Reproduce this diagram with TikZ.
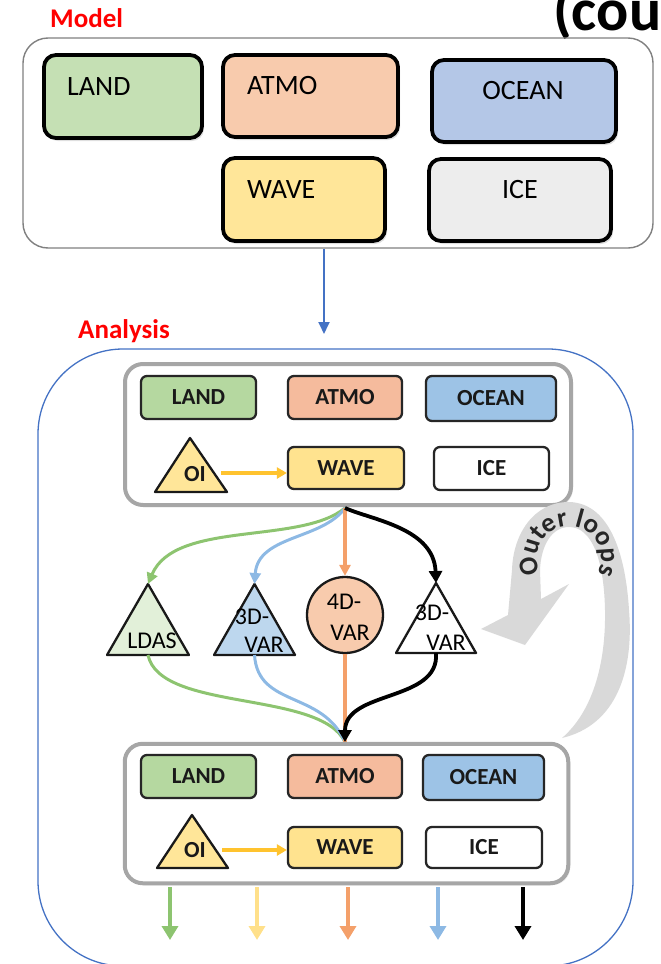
\documentclass[tikz,border=0pt]{standalone}
\usepackage{fontspec}
\setmainfont{Carlito}
\usetikzlibrary{arrows.meta,shadows,decorations.text}
\definecolor{mLandC}{HTML}{C5E0B4}
\definecolor{mAtmoC}{HTML}{F8CBAD}
\definecolor{mOceanC}{HTML}{B4C7E7}
\definecolor{mWaveC}{HTML}{FFE699}
\definecolor{mIceC}{HTML}{EDEDED}
\definecolor{aLandC}{HTML}{B5D8A0}
\definecolor{aAtmoC}{HTML}{F5BB9D}
\definecolor{aOceanC}{HTML}{9DC3E6}
\definecolor{aWaveC}{HTML}{FFE38F}
\definecolor{triGreen}{HTML}{E2F0D9}
\definecolor{triBlue}{HTML}{BDD7EE}
\definecolor{circOr}{HTML}{F8CBAD}
\definecolor{arGreen}{HTML}{8DC470}
\definecolor{arBlue}{HTML}{8DB9E4}
\definecolor{arOrange}{HTML}{F4A06A}
\definecolor{arYellow}{HTML}{FFC32E}
\definecolor{arPale}{HTML}{FFE08A}
\definecolor{linkBlue}{HTML}{4472C4}
\definecolor{boxGray}{HTML}{A6A6A6}
\definecolor{loopGray}{HTML}{D9D9D9}
\definecolor{titleRed}{HTML}{FF0000}
\begin{document}
\begin{tikzpicture}[x=1pt,y=-1pt,
  mbox/.style={draw=black, line width=3.8pt, rounded corners=12pt, inner sep=0pt,
    drop shadow={opacity=0.25,shadow xshift=2pt,shadow yshift=-3pt}},
  mtext/.style={font=\fontsize{28}{28}\selectfont, inner sep=0pt},
  abox/.style={draw=black!85, line width=2.3pt, rounded corners=6pt, inner sep=0pt,
    font=\bfseries\fontsize{23}{23}\selectfont, text=black!90},
  agroup/.style={draw=boxGray, line width=4pt, rounded corners=18pt, fill=white, inner sep=0pt,
    drop shadow={opacity=0.15,shadow xshift=2pt,shadow yshift=-2pt}},
  tri/.style={draw=black!90, line width=2.3pt, line join=round},
  ttext/.style={font=\fontsize{24}{24}\selectfont, inner sep=0pt, text=black},
  oitext/.style={font=\bfseries\fontsize{23}{23}\selectfont, inner sep=0pt, text=black!90},
  flowline/.style={line width=3pt},
  arrowtip/.style={-{Triangle[length=11pt,width=11pt]}},
  outarrow/.style={line width=3.6pt, shorten <=2pt, -{Triangle[length=14pt,width=16pt]}},
  redtitle/.style={font=\bfseries\fontsize{27}{27}\selectfont, text=titleRed, inner sep=0pt}]
\useasboundingbox (0,0) rectangle (661,964);
\clip (0,0) rectangle (661,964);

% ---------- Model ----------
\node[redtitle, anchor=base west] (modelT) at (50,27) {Model};
\node[font=\bfseries\fontsize{60}{60}\selectfont, anchor=base west, inner sep=0pt] (titleT) at (553,30) {(cou};
\node[draw=black!50, line width=1.4pt, rounded corners=25pt, minimum width=630pt, minimum height=210pt, inner sep=0pt] (model) at (338,143) {};
\node[mbox, fill=mLandC, minimum width=158pt, minimum height=83pt] (mLand) at (123,96.5) {};
\node[mbox, fill=mAtmoC, minimum width=175pt, minimum height=82pt] (mAtmo) at (310.5,96) {};
\node[mbox, fill=mOceanC, minimum width=184pt, minimum height=82pt] (mOcean) at (524,101) {};
\node[mbox, fill=mWaveC, minimum width=162pt, minimum height=83pt] (mWave) at (304,199.5) {};
\node[mbox, fill=mIceC, minimum width=182pt, minimum height=82pt] (mIce) at (520,200) {};
\node[mtext, anchor=base west] (mLandT) at (67,95) {LAND};
\node[mtext, anchor=base west] (mAtmoT) at (247,94) {ATMO};
\node[mtext, anchor=base] (mOceanT) at (523,99) {OCEAN};
\node[mtext, anchor=base west] (mWaveT) at (247,198) {WAVE};
\node[mtext, anchor=base] (mIceT) at (520,198) {ICE};

\coordinate (aIn) at (324,334);
\draw[linkBlue, line width=1.8pt, -{Triangle[length=12pt,width=11pt]}] (model.south -| aIn) -- (aIn);

% ---------- Analysis ----------
\node[redtitle, anchor=base west] (analysisT) at (78,338) {Analysis};
\node[draw=linkBlue, line width=1.3pt, rounded corners=85pt, minimum width=595pt, minimum height=617pt, inner sep=0pt] (analysis) at (335.5,657.5) {};

% top group
\node[agroup, minimum width=446pt, minimum height=141pt] (aTop) at (348,434.5) {};
\node[abox, fill=aLandC, minimum width=115pt, minimum height=43pt] (aLand) at (198.5,397.5) {LAND};
\node[abox, fill=aAtmoC, minimum width=114pt, minimum height=43pt] (aAtmo) at (345,397.5) {ATMO};
\node[abox, fill=aOceanC, minimum width=130pt, minimum height=45pt] (aOcean) at (491,398.5) {OCEAN};
\node[abox, fill=aWaveC, minimum width=116pt, minimum height=42pt] (aWave) at (346,468) {WAVE};
\node[abox, fill=white, minimum width=115pt, minimum height=43pt] (aIce) at (491.5,468.5) {ICE};
\filldraw[tri, fill=mWaveC] (190,438) -- (227,492) -- (155,492) -- cycle;
\node[oitext] (aOI) at (195,474) {OI};
\coordinate (aOIr) at (221,473);
\draw[arYellow, line width=3.2pt, -{Triangle[length=10pt,width=11pt]}] (aOIr) -- (aOIr -| aWave.west);

% middle
\coordinate (src) at (345,508);
\coordinate (dst) at (345,742);
\filldraw[tri, fill=triGreen] (148,584) -- (189,655) -- (107,655) -- cycle;
\coordinate (ldasTop) at (148,584);
\coordinate (ldasBot) at (148,655);
\filldraw[tri, fill=triBlue] (254.5,584) -- (295,655) -- (214,655) -- cycle;
\coordinate (v3Top) at (254.5,584);
\coordinate (v3Bot) at (254.5,655);
\filldraw[tri, fill=white] (436,583) -- (476,653) -- (396,653) -- cycle;
\coordinate (w3Top) at (436,583);
\coordinate (w3Bot) at (436,653);
\node[circle, draw=black!90, line width=2.3pt, fill=circOr, minimum size=76pt, inner sep=0pt] (v4) at (345,615) {};
\node[ttext] (ldasT) at (152,641) {LDAS};
\node[ttext] (v3T1) at (252,617) {3D-};
\node[ttext] (v3T2) at (264,645) {VAR};
\node[ttext] (v4T1) at (344,602) {4D-};
\node[ttext] (v4T2) at (350,633) {VAR};
\node[ttext] (w3T1) at (432,613) {3D-};
\node[ttext] (w3T2) at (446,643) {VAR};

\draw[flowline, arGreen, arrowtip] (src) .. controls (300,545) and (175,520) .. (ldasTop);
\draw[flowline, arBlue, arrowtip] (src) .. controls (322,540) and (258,535) .. (v3Top);
\draw[line width=3.4pt, arOrange, arrowtip] (src) -- (v4.north);
\draw[flowline, arGreen] (ldasBot) .. controls (160,712) and (320,690) .. (dst);
\draw[flowline, arBlue] (v3Bot) .. controls (258,708) and (322,690) .. (dst);
\draw[line width=3.4pt, arOrange] (v4.south) -- (dst);
\draw[line width=3.8pt, black, -{Triangle[length=12pt,width=13pt]}] (src) .. controls (372,520) and (434,528) .. (w3Top);
\draw[line width=3.8pt, black, -{Triangle[length=12pt,width=13pt]}] (w3Bot) .. controls (440,702) and (345,690) .. (dst);

% outer loops
\fill[loopGray] (562,738) .. controls (617,725) and (634,670) .. (629,610)
  .. controls (626,560) and (612,503) .. (569,502)
  .. controls (533,502) and (513,535) .. (512,570) -- (508,615) -- (481,629) -- (525,645) -- (569,584) -- (541,599) -- (540,570)
  .. controls (541,545) and (552,527) .. (569,527)
  .. controls (592,527) and (604,560) .. (605,610)
  .. controls (606,665) and (592,712) .. (562,738) -- cycle;
\path[decorate, decoration={text along path, text align=center,
  text={|\bfseries\fontsize{27}{27}\selectfont\color{black!85}|Outer loops}}]
  (569,558) ++(120:32) arc[start angle=120, end angle=420, radius=32];

% bottom group
\node[agroup, minimum width=443.5pt, minimum height=139.5pt] (aBot) at (346.5,813.5) {};
\node[abox, fill=aLandC, minimum width=115pt, minimum height=43pt] (bLand) at (198.5,776.5) {LAND};
\node[abox, fill=aAtmoC, minimum width=114pt, minimum height=43pt] (bAtmo) at (345,776.5) {ATMO};
\node[abox, fill=aOceanC, minimum width=121pt, minimum height=45pt] (bOcean) at (483.5,777.5) {OCEAN};
\node[abox, fill=aWaveC, minimum width=114pt, minimum height=41pt] (bWave) at (345,847.5) {WAVE};
\node[abox, fill=white, minimum width=116pt, minimum height=41pt] (bIce) at (484,847.5) {ICE};
\filldraw[tri, fill=mWaveC] (192,815) -- (228,868) -- (157,868) -- cycle;
\node[oitext] (bOI) at (195,850) {OI};
\coordinate (bOIr) at (222,850);
\draw[arYellow, line width=3.2pt, -{Triangle[length=10pt,width=11pt]}] (bOIr) -- (bOIr -| bWave.west);

\coordinate (o1) at (170,940);
\coordinate (o2) at (257,940);
\coordinate (o3) at (348,940);
\coordinate (o4) at (438,940);
\coordinate (o5) at (523,940);
\draw[outarrow, arGreen] (aBot.south -| o1) -- (o1);
\draw[outarrow, arPale] (aBot.south -| o2) -- (o2);
\draw[outarrow, arOrange] (aBot.south -| o3) -- (o3);
\draw[outarrow, arBlue] (aBot.south -| o4) -- (o4);
\draw[outarrow, black] (aBot.south -| o5) -- (o5);
\end{tikzpicture}
\end{document}
